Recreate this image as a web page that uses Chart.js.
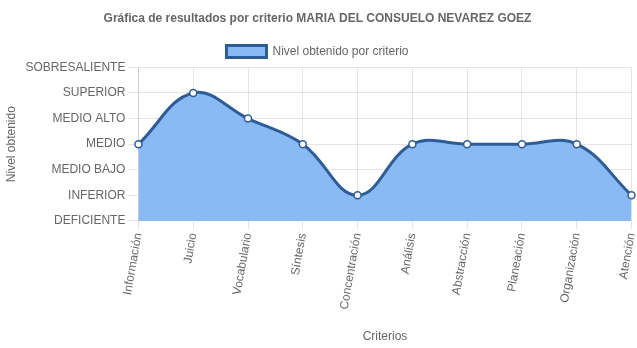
<!DOCTYPE html>
<html lang="es">
<head>
    <meta charset="UTF-8">
    <title>Gráfica de resultados por criterio</title>
    <style>
        body {
            margin: 0;
            padding: 0;
            background-color: #fff;
        }
        .chart-container {
            width: 637px;
            height: 348px;
        }
    </style>
    <script src="https://cdn.jsdelivr.net/npm/chart.js"></script>
</head>
<body>
    <div class="chart-container">
        <canvas id="criteriosChart"></canvas>
    </div>

    <script>
        // Criterios evaluados
        const criterios = ['Información', 'Juicio', 'Vocabulario', 'Síntesis', 'Concentración',
            'Análisis', 'Abstracción', 'Planeación', 'Organización', 'Atención'];

        // Nivel obtenido en cada criterio (0 = DEFICIENTE ... 6 = SOBRESALIENTE)
        const niveles = [3, 5, 4, 3, 1, 3, 3, 3, 3, 1];

        // Etiquetas del eje de niveles
        const nombresNivel = ['DEFICIENTE', 'INFERIOR', 'MEDIO BAJO', 'MEDIO', 'MEDIO ALTO', 'SUPERIOR', 'SOBRESALIENTE'];

        Chart.defaults.font.family = 'Arial, "Liberation Sans", sans-serif';
        Chart.defaults.font.size = 12;
        Chart.defaults.color = '#666';

        const ctx = document.getElementById('criteriosChart').getContext('2d');
        new Chart(ctx, {
            type: 'line',
            data: {
                labels: criterios,
                datasets: [{
                    label: 'Nivel obtenido por criterio',
                    data: niveles,
                    fill: true,
                    backgroundColor: '#8abaf5',
                    borderColor: '#2e5c96',
                    borderWidth: 3,
                    tension: 0.4,
                    pointRadius: 3.5,
                    pointBorderWidth: 1.5,
                    pointBackgroundColor: '#fff',
                    pointBorderColor: '#2e5c96'
                }]
            },
            options: {
                responsive: true,
                maintainAspectRatio: false,
                animation: false,
                layout: { padding: { left: 0, right: 2, top: 0, bottom: 0 } },
                plugins: {
                    title: {
                        display: true,
                        text: 'Gráfica de resultados por criterio MARIA DEL CONSUELO NEVAREZ GOEZ',
                        font: { size: 12, weight: 'bold' },
                        padding: { top: 11, bottom: 10 }
                    },
                    legend: {
                        labels: { boxWidth: 40, font: { size: 12 } }
                    },
                    tooltip: { enabled: false }
                },
                scales: {
                    x: {
                        offset: false,
                        title: { display: true, text: 'Criterios', padding: { top: 16 } },
                        grid: { color: 'rgba(0,0,0,0.1)', tickLength: 8 },
                        ticks: { minRotation: 80, maxRotation: 80, autoSkip: false },
                        // la última etiqueta no debe recortar el área del gráfico
                        afterFit: (scale) => { scale.paddingRight = 0; }
                    },
                    y: {
                        min: 0,
                        max: 6,
                        title: { display: true, text: 'Nivel obtenido' },
                        grid: { color: 'rgba(0,0,0,0.1)', tickLength: 10 },
                        ticks: {
                            stepSize: 1,
                            font: { size: 12 },
                            callback: (v) => nombresNivel[v]
                        }
                    }
                }
            }
        });
    </script>
</body>
</html>
